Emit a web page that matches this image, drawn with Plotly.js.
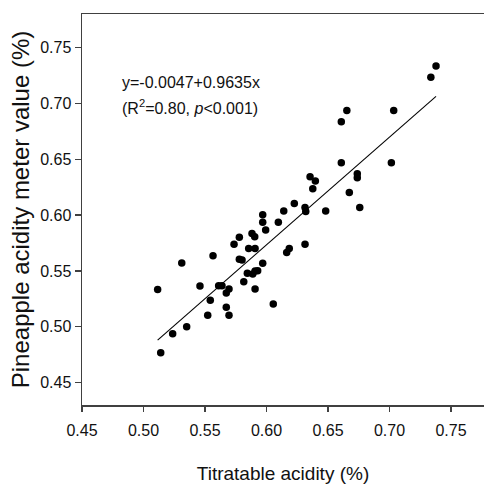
<!DOCTYPE html>
<html>
<head>
<meta charset="utf-8">
<script src="https://cdn.plot.ly/plotly-3.0.1.min.js"></script>
<style>html,body{margin:0;padding:0;background:#fff;}</style>
</head>
<body>
<div id="chart" style="width:484px;height:488px;"></div>
<script>
// Titratable acidity (%)
var titratable = [0.5115,0.5140,0.5237,0.5311,0.5351,0.5459,0.5522,0.5543,0.5565,0.5611,
  0.5638,0.5673,0.5695,0.5673,0.5695,0.5736,0.5779,0.5779,0.5801,0.5815,
  0.5844,0.5855,0.5882,0.5904,0.5907,0.5888,0.5907,0.5928,0.5907,0.5969,
  0.5969,0.5993,0.5969,0.6055,0.6096,0.6140,0.6226,0.6313,0.6319,0.6481,
  0.6758,0.6164,0.6185,0.6313,0.6354,0.6397,0.6376,0.6673,0.6738,0.6738,
  0.6608,0.7015,0.6608,0.6653,0.7034,0.7336,0.7378];
// Pineapple acidity meter value (%)
var meter = [0.5335,0.4768,0.4938,0.5571,0.5001,0.5365,0.5103,0.5237,0.5636,0.5368,
  0.5368,0.5302,0.5338,0.5174,0.5103,0.5738,0.5801,0.5604,0.5598,0.5403,
  0.5479,0.5702,0.5836,0.5806,0.5702,0.5472,0.5499,0.5502,0.5338,0.6003,
  0.5935,0.5866,0.5568,0.5204,0.5935,0.6036,0.6103,0.6069,0.6033,0.6036,
  0.6069,0.5666,0.5702,0.5738,0.6344,0.6304,0.6235,0.6203,0.6369,0.6334,
  0.6468,0.6468,0.6835,0.6936,0.6936,0.7234,0.7335];
// Regression line end points (y = -0.0047 + 0.9635x)
var fitX = [0.5115, 0.7378];
var fitY = [0.4881, 0.7062];

var tickVals = [0.45,0.50,0.55,0.60,0.65,0.70,0.75];
var tickText = ['0.45','0.50','0.55','0.60','0.65','0.70','0.75'];

var sans = 'Liberation Sans, Arial, sans-serif';

var traces = [
  {x: fitX, y: fitY, type: 'scatter', mode: 'lines',
   line: {color: '#000', width: 1.1}, hoverinfo: 'skip', showlegend: false},
  {x: titratable, y: meter, type: 'scatter', mode: 'markers',
   marker: {color: '#000', size: 7.5}, showlegend: false}
];

var layout = {
  width: 484, height: 488,
  margin: {l: 82, r: 0, t: 14, b: 83},
  paper_bgcolor: '#fff', plot_bgcolor: '#fff',
  showlegend: false,
  xaxis: {
    range: [0.45, 0.7768], tickvals: tickVals, ticktext: tickText,
    showgrid: false, zeroline: false, showline: true, mirror: true,
    linecolor: '#404040', linewidth: 1.5,
    ticks: 'outside', ticklen: 5, tickwidth: 1.2, tickcolor: '#404040',
    ticklabelstandoff: 5,
    tickfont: {family: sans, size: 16, color: '#111'},
    title: {text: 'Titratable acidity (%)', font: {family: sans, size: 19, color: '#111'}, standoff: 29},
    automargin: false
  },
  yaxis: {
    range: [0.43, 0.78], tickvals: tickVals, ticktext: tickText,
    showgrid: false, zeroline: false, showline: true,
    linecolor: '#404040', linewidth: 1.5,
    ticks: 'outside', ticklen: 6, tickwidth: 1.2, tickcolor: '#404040',
    tickfont: {family: sans, size: 16, color: '#111'},
    title: {text: 'Pineapple acidity meter value (%)', font: {family: sans, size: 24, color: '#111'}, standoff: 4},
    automargin: false
  },
  annotations: [
    {xref: 'x', yref: 'y', x: 0.4809, y: 0.719, xanchor: 'left', yanchor: 'middle',
     text: 'y=-0.0047+0.9635x', showarrow: false,
     font: {family: sans, size: 16, color: '#111'}},
    {xref: 'x', yref: 'y', x: 0.4809, y: 0.6966, xanchor: 'left', yanchor: 'middle',
     text: '(R<sup>2</sup>=0.80, <i>p</i><0.001)', showarrow: false,
     font: {family: sans, size: 16, color: '#111'}}
  ]
};

Plotly.newPlot('chart', traces, layout, {displayModeBar: false, staticPlot: true});
</script>
</body>
</html>
